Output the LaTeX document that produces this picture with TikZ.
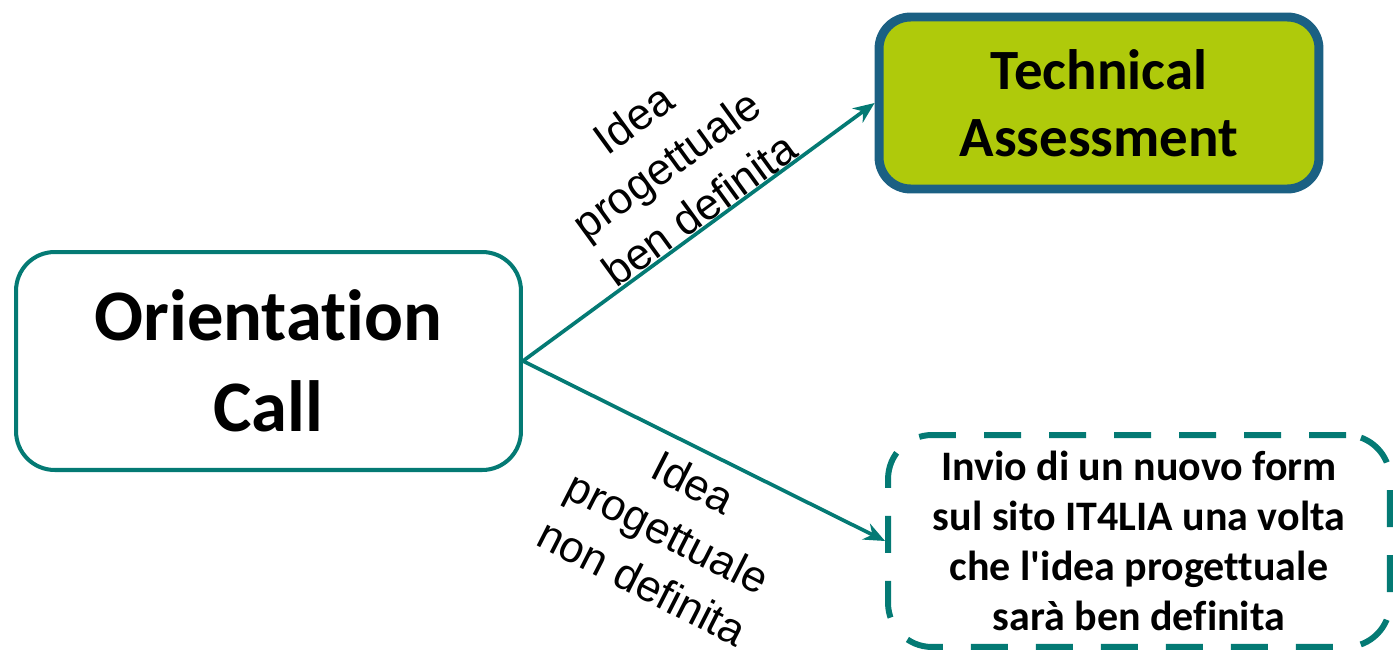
\documentclass[tikz,border=0pt]{standalone}
\usepackage{fontspec}
\setmainfont{Carlito}[Ligatures={TeXOff,CommonOff}]
\newfontfamily\labelfont{Liberation Sans}
\usepackage{tikz}
\usetikzlibrary{arrows.meta}
\definecolor{teal}{HTML}{047A74}
\definecolor{tealblue}{HTML}{1B6083}
\definecolor{lime}{HTML}{AFCA0B}

\begin{document}
\begin{tikzpicture}[x=0.02cm, y=-0.02cm,
    box/.style={rectangle, rounded corners=22pt, align=center, inner sep=0pt, font=\bfseries},
    link/.style={teal, line width=2.1pt, -{Stealth[length=12pt, width=10pt]}},
    tag/.style={align=center, font=\labelfont\fontsize{25}{32}\selectfont}]
    \useasboundingbox (0,0) rectangle (1393,652);
    \node [box, draw=teal, line width=2.3pt, minimum width=10.1cm, minimum height=4.36cm,
      font=\bfseries\fontsize{41.3}{51.8}\selectfont] (orient) at (268.5,361) {Orientation\\Call};
    \node [box, draw=tealblue, fill=lime, line width=5.1pt, minimum width=8.8cm, minimum height=3.44cm,
      rounded corners=18pt, font=\bfseries\fontsize{32.4}{38.1}\selectfont] (tech) at (1099,103) {Technical\\Assessment};
    \node [box, draw=teal, line width=3.4pt, dash pattern=on 21pt off 16pt, minimum width=10.04cm,
      minimum height=4.24cm, rounded corners=25pt,
      font=\bfseries\fontsize{23.9}{28.5}\selectfont] (form) at (1139,541)
      {Invio di un nuovo form\\sul sito IT4LIA una volta\\che l'idea progettuale\\sarà ben definita};
    \draw [link] (orient.east) -- (tech.west);
    \draw [link] (orient.east) -- (form.west);
    \node [tag, rotate=36] (yes) at (666,164) {Idea\\progettuale\\ben definita};
    \node [tag, rotate=-27] (no) at (668,532) {Idea\\progettuale\\non definita};
\end{tikzpicture}
\end{document}
